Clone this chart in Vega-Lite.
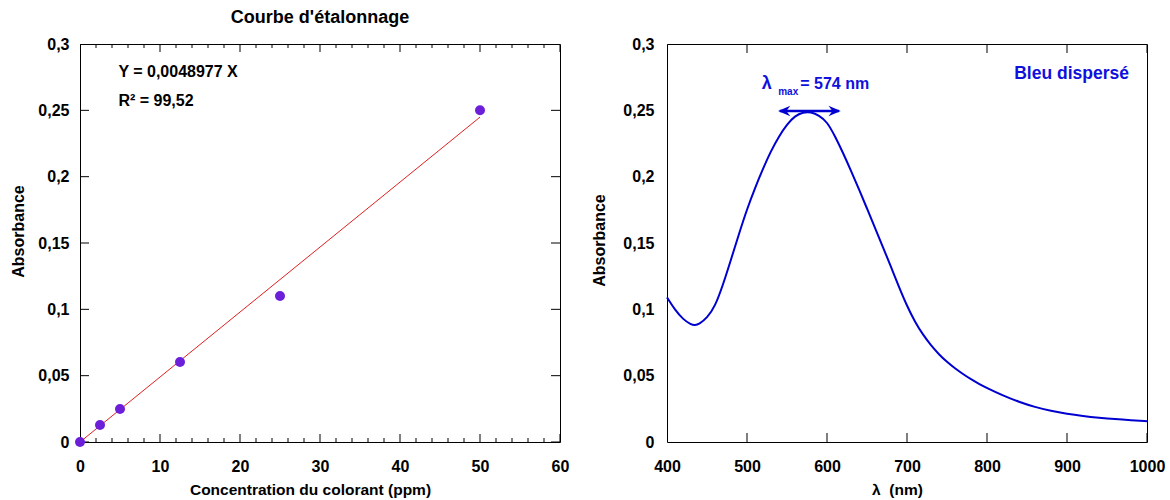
{
  "$schema": "https://vega.github.io/schema/vega-lite/v6.json",
  "padding": {"left": 10, "top": 8, "right": 0, "bottom": 0},
  "background": "white",
  "spacing": 107,
  "bounds": "flush",
  "config": {
    "font": "Liberation Sans",
    "view": {"stroke": "black", "strokeWidth": 1},
    "axis": {
      "labelFont": "Liberation Sans", "labelFontSize": 16, "labelFontWeight": "bold", "labelColor": "black",
      "titleFont": "Liberation Sans", "titleFontSize": 16, "titleFontWeight": "bold", "titleColor": "black",
      "ticks": false, "tickSize": 0, "grid": false, "domain": false, "labelFlush": false, "labelOverlap": false
    },
    "title": {"font": "Liberation Sans", "fontSize": 18, "fontWeight": "bold", "color": "black"}
  },
  "datasets": {
    "lxmajor": [
      {"c": 0, "a": 0}, {"c": 10, "a": 0}, {"c": 20, "a": 0}, {"c": 30, "a": 0}, {"c": 40, "a": 0}, {"c": 50, "a": 0}, {"c": 60, "a": 0},
      {"c": 0, "a": 0.3}, {"c": 10, "a": 0.3}, {"c": 20, "a": 0.3}, {"c": 30, "a": 0.3}, {"c": 40, "a": 0.3}, {"c": 50, "a": 0.3}, {"c": 60, "a": 0.3}
    ],
    "lxminor": [
      {"c": 2, "a": 0}, {"c": 4, "a": 0}, {"c": 6, "a": 0}, {"c": 8, "a": 0}, {"c": 12, "a": 0}, {"c": 14, "a": 0}, {"c": 16, "a": 0}, {"c": 18, "a": 0},
      {"c": 22, "a": 0}, {"c": 24, "a": 0}, {"c": 26, "a": 0}, {"c": 28, "a": 0}, {"c": 32, "a": 0}, {"c": 34, "a": 0}, {"c": 36, "a": 0}, {"c": 38, "a": 0},
      {"c": 42, "a": 0}, {"c": 44, "a": 0}, {"c": 46, "a": 0}, {"c": 48, "a": 0}, {"c": 52, "a": 0}, {"c": 54, "a": 0}, {"c": 56, "a": 0}, {"c": 58, "a": 0},
      {"c": 2, "a": 0.3}, {"c": 4, "a": 0.3}, {"c": 6, "a": 0.3}, {"c": 8, "a": 0.3}, {"c": 12, "a": 0.3}, {"c": 14, "a": 0.3}, {"c": 16, "a": 0.3}, {"c": 18, "a": 0.3},
      {"c": 22, "a": 0.3}, {"c": 24, "a": 0.3}, {"c": 26, "a": 0.3}, {"c": 28, "a": 0.3}, {"c": 32, "a": 0.3}, {"c": 34, "a": 0.3}, {"c": 36, "a": 0.3}, {"c": 38, "a": 0.3},
      {"c": 42, "a": 0.3}, {"c": 44, "a": 0.3}, {"c": 46, "a": 0.3}, {"c": 48, "a": 0.3}, {"c": 52, "a": 0.3}, {"c": 54, "a": 0.3}, {"c": 56, "a": 0.3}, {"c": 58, "a": 0.3}
    ],
    "lyticks": [
      {"c": 0, "a": 0}, {"c": 0, "a": 0.05}, {"c": 0, "a": 0.1}, {"c": 0, "a": 0.15}, {"c": 0, "a": 0.2}, {"c": 0, "a": 0.25}, {"c": 0, "a": 0.3},
      {"c": 60, "a": 0}, {"c": 60, "a": 0.05}, {"c": 60, "a": 0.1}, {"c": 60, "a": 0.15}, {"c": 60, "a": 0.2}, {"c": 60, "a": 0.25}, {"c": 60, "a": 0.3}
    ],
    "rxticks": [
      {"l": 400, "a": 0}, {"l": 500, "a": 0}, {"l": 600, "a": 0}, {"l": 700, "a": 0}, {"l": 800, "a": 0}, {"l": 900, "a": 0}, {"l": 1000, "a": 0},
      {"l": 400, "a": 0.3}, {"l": 500, "a": 0.3}, {"l": 600, "a": 0.3}, {"l": 700, "a": 0.3}, {"l": 800, "a": 0.3}, {"l": 900, "a": 0.3}, {"l": 1000, "a": 0.3}
    ]
  },
  "hconcat": [
    {
      "width": 480,
      "height": 398,
      "title": {"text": "Courbe d'étalonnage", "offset": 9},
      "layer": [
        {
          "data": {"name": "lxmajor"},
          "mark": {"type": "tick", "orient": "vertical", "size": 16, "thickness": 1, "color": "black", "opacity": 1, "clip": true},
          "encoding": {
            "x": {"field": "c", "type": "quantitative", "scale": {"domain": [0, 60], "nice": false, "zero": false},
                  "axis": {"orient": "bottom", "values": [0, 10, 20, 30, 40, 50, 60], "labelPadding": 16,
                           "title": "Concentration du colorant (ppm)", "titleFontSize": 15.5, "titlePadding": 8, "titleX": 230}},
            "y": {"field": "a", "type": "quantitative", "scale": {"domain": [0, 0.3], "nice": false, "zero": false},
                  "axis": {"orient": "left", "values": [0, 0.05, 0.1, 0.15, 0.2, 0.25, 0.3], "labelPadding": 11,
                           "labelExpr": "replace(toString(datum.value), '.', ',')",
                           "title": "Absorbance", "titlePadding": 11, "titleY": 187}}
          }
        },
        {
          "data": {"name": "lxminor"},
          "mark": {"type": "tick", "orient": "vertical", "size": 8, "thickness": 1, "color": "black", "opacity": 1, "clip": true},
          "encoding": {
            "x": {"field": "c", "type": "quantitative", "scale": {"domain": [0, 60], "nice": false, "zero": false}, "axis": null},
            "y": {"field": "a", "type": "quantitative", "scale": {"domain": [0, 0.3], "nice": false, "zero": false}, "axis": null}
          }
        },
        {
          "data": {"name": "lyticks"},
          "mark": {"type": "tick", "orient": "horizontal", "size": 18, "thickness": 1, "color": "black", "opacity": 1, "clip": true},
          "encoding": {
            "x": {"field": "c", "type": "quantitative", "scale": {"domain": [0, 60], "nice": false, "zero": false}, "axis": null},
            "y": {"field": "a", "type": "quantitative", "scale": {"domain": [0, 0.3], "nice": false, "zero": false}, "axis": null}
          }
        },
        {
          "data": {"values": [{"c": 0, "a": 0}, {"c": 50, "a": 0.244885}]},
          "mark": {"type": "line", "color": "#e02020", "strokeWidth": 1},
          "encoding": {
            "x": {"field": "c", "type": "quantitative", "scale": {"domain": [0, 60], "nice": false, "zero": false}, "axis": null},
            "y": {"field": "a", "type": "quantitative", "scale": {"domain": [0, 0.3], "nice": false, "zero": false}, "axis": null}
          }
        },
        {
          "data": {"values": [
            {"c": 0, "a": 0},
            {"c": 2.5, "a": 0.0128},
            {"c": 5, "a": 0.0249},
            {"c": 12.5, "a": 0.0603},
            {"c": 25, "a": 0.110},
            {"c": 50, "a": 0.250}
          ]},
          "mark": {"type": "point", "filled": true, "size": 100, "color": "#6c1fd9", "opacity": 1},
          "encoding": {
            "x": {"field": "c", "type": "quantitative", "scale": {"domain": [0, 60], "nice": false, "zero": false}, "axis": null},
            "y": {"field": "a", "type": "quantitative", "scale": {"domain": [0, 0.3], "nice": false, "zero": false}, "axis": null}
          }
        },
        {
          "data": {"values": [{"c": 4.8, "a": 0.2787, "t": "Y = 0,0048977 X"}, {"c": 4.8, "a": 0.257, "t": "R² = 99,52"}]},
          "mark": {"type": "text", "align": "left", "baseline": "middle", "fontSize": 16, "fontWeight": "bold", "color": "black"},
          "encoding": {
            "x": {"field": "c", "type": "quantitative", "scale": {"domain": [0, 60], "nice": false, "zero": false}, "axis": null},
            "y": {"field": "a", "type": "quantitative", "scale": {"domain": [0, 0.3], "nice": false, "zero": false}, "axis": null},
            "text": {"field": "t"}
          }
        }
      ],
      "resolve": {"axis": {"x": "independent", "y": "independent"}}
    },
    {
      "width": 480,
      "height": 398,
      "layer": [
        {
          "data": {"name": "rxticks"},
          "mark": {"type": "tick", "orient": "vertical", "size": 18, "thickness": 1, "color": "black", "opacity": 1, "clip": true},
          "encoding": {
            "x": {"field": "l", "type": "quantitative", "scale": {"domain": [400, 1000], "nice": false, "zero": false},
                  "axis": {"orient": "bottom", "values": [400, 500, 600, 700, 800, 900, 1000], "format": "d", "labelPadding": 16,
                           "title": "λ\u00a0\u00a0(nm)", "titleFontSize": 15.5, "titlePadding": 8, "titleX": 230}},
            "y": {"field": "a", "type": "quantitative", "scale": {"domain": [0, 0.3], "nice": false, "zero": false},
                  "axis": {"orient": "left", "values": [0, 0.05, 0.1, 0.15, 0.2, 0.25, 0.3], "labelPadding": 13,
                           "labelExpr": "replace(toString(datum.value), '.', ',')",
                           "title": "Absorbance", "titlePadding": 15, "titleY": 196}}
          }
        },
        {
          "data": {"values": [
            {"wl": 400, "abs": 0.109}, {"wl": 410, "abs": 0.0995}, {"wl": 420, "abs": 0.0925}, {"wl": 430, "abs": 0.0885},
            {"wl": 435, "abs": 0.088}, {"wl": 440, "abs": 0.0888}, {"wl": 450, "abs": 0.0935}, {"wl": 460, "abs": 0.1020},
            {"wl": 470, "abs": 0.1185}, {"wl": 480, "abs": 0.1375}, {"wl": 490, "abs": 0.157}, {"wl": 500, "abs": 0.1755},
            {"wl": 510, "abs": 0.1915}, {"wl": 520, "abs": 0.206}, {"wl": 530, "abs": 0.2195}, {"wl": 540, "abs": 0.2305},
            {"wl": 550, "abs": 0.2395}, {"wl": 560, "abs": 0.2458}, {"wl": 570, "abs": 0.2487}, {"wl": 580, "abs": 0.2488},
            {"wl": 590, "abs": 0.2462}, {"wl": 600, "abs": 0.2415}, {"wl": 610, "abs": 0.2305}, {"wl": 620, "abs": 0.218},
            {"wl": 630, "abs": 0.2045}, {"wl": 640, "abs": 0.1905}, {"wl": 650, "abs": 0.176}, {"wl": 660, "abs": 0.1615},
            {"wl": 670, "abs": 0.1468}, {"wl": 680, "abs": 0.132}, {"wl": 690, "abs": 0.1168}, {"wl": 700, "abs": 0.1025},
            {"wl": 710, "abs": 0.0905}, {"wl": 720, "abs": 0.0808}, {"wl": 730, "abs": 0.0728}, {"wl": 740, "abs": 0.066},
            {"wl": 750, "abs": 0.0603}, {"wl": 760, "abs": 0.0555}, {"wl": 770, "abs": 0.0512}, {"wl": 780, "abs": 0.0473},
            {"wl": 790, "abs": 0.0438}, {"wl": 800, "abs": 0.0407}, {"wl": 820, "abs": 0.035}, {"wl": 840, "abs": 0.0302},
            {"wl": 860, "abs": 0.0263}, {"wl": 880, "abs": 0.0234}, {"wl": 900, "abs": 0.0212}, {"wl": 920, "abs": 0.0196},
            {"wl": 940, "abs": 0.0183}, {"wl": 960, "abs": 0.0172}, {"wl": 980, "abs": 0.0164}, {"wl": 1000, "abs": 0.0157}
          ]},
          "mark": {"type": "line", "color": "#0000d0", "strokeWidth": 2, "interpolate": "basis"},
          "encoding": {
            "x": {"field": "wl", "type": "quantitative", "scale": {"domain": [400, 1000], "nice": false, "zero": false}, "axis": null},
            "y": {"field": "abs", "type": "quantitative", "scale": {"domain": [0, 0.3], "nice": false, "zero": false}, "axis": null}
          }
        },
        {
          "data": {"values": [{"l1": 541, "l2": 615, "a": 0.2495}]},
          "mark": {"type": "rule", "color": "#0000d0", "strokeWidth": 2.5},
          "encoding": {
            "x": {"field": "l1", "type": "quantitative", "scale": {"domain": [400, 1000], "nice": false, "zero": false}, "axis": null},
            "x2": {"field": "l2"},
            "y": {"field": "a", "type": "quantitative", "scale": {"domain": [0, 0.3], "nice": false, "zero": false}, "axis": null}
          }
        },
        {
          "data": {"values": [{"l": 546.5, "a": 0.2495}]},
          "mark": {"type": "point", "shape": "M -1 0 L 1 -0.85 L 0.35 0 L 1 0.85 Z", "filled": true, "size": 150, "color": "#0000d0", "opacity": 1},
          "encoding": {
            "x": {"field": "l", "type": "quantitative", "scale": {"domain": [400, 1000], "nice": false, "zero": false}, "axis": null},
            "y": {"field": "a", "type": "quantitative", "scale": {"domain": [0, 0.3], "nice": false, "zero": false}, "axis": null}
          }
        },
        {
          "data": {"values": [{"l": 609.5, "a": 0.2495}]},
          "mark": {"type": "point", "shape": "M 1 0 L -1 -0.85 L -0.35 0 L -1 0.85 Z", "filled": true, "size": 150, "color": "#0000d0", "opacity": 1},
          "encoding": {
            "x": {"field": "l", "type": "quantitative", "scale": {"domain": [400, 1000], "nice": false, "zero": false}, "axis": null},
            "y": {"field": "a", "type": "quantitative", "scale": {"domain": [0, 0.3], "nice": false, "zero": false}, "axis": null}
          }
        },
        {
          "data": {"values": [{"l": 518.5, "a": 0.2695, "t": "λ"}]},
          "mark": {"type": "text", "align": "left", "baseline": "middle", "fontSize": 18, "fontWeight": "bold", "color": "#1010dd"},
          "encoding": {
            "x": {"field": "l", "type": "quantitative", "scale": {"domain": [400, 1000], "nice": false, "zero": false}, "axis": null},
            "y": {"field": "a", "type": "quantitative", "scale": {"domain": [0, 0.3], "nice": false, "zero": false}, "axis": null},
            "text": {"field": "t"}
          }
        },
        {
          "data": {"values": [{"l": 566.6, "a": 0.2698, "t": "= 574 nm"}]},
          "mark": {"type": "text", "align": "left", "baseline": "middle", "fontSize": 16, "fontWeight": "bold", "color": "#1010dd"},
          "encoding": {
            "x": {"field": "l", "type": "quantitative", "scale": {"domain": [400, 1000], "nice": false, "zero": false}, "axis": null},
            "y": {"field": "a", "type": "quantitative", "scale": {"domain": [0, 0.3], "nice": false, "zero": false}, "axis": null},
            "text": {"field": "t"}
          }
        },
        {
          "data": {"values": [{"l": 539, "a": 0.2638, "t": "max"}]},
          "mark": {"type": "text", "align": "left", "baseline": "middle", "fontSize": 10, "fontWeight": "bold", "color": "#1010dd"},
          "encoding": {
            "x": {"field": "l", "type": "quantitative", "scale": {"domain": [400, 1000], "nice": false, "zero": false}, "axis": null},
            "y": {"field": "a", "type": "quantitative", "scale": {"domain": [0, 0.3], "nice": false, "zero": false}, "axis": null},
            "text": {"field": "t"}
          }
        },
        {
          "data": {"values": [{"l": 977.5, "a": 0.2774, "t": "Bleu dispersé"}]},
          "mark": {"type": "text", "align": "right", "baseline": "middle", "fontSize": 17.5, "fontWeight": "bold", "color": "#1010dd"},
          "encoding": {
            "x": {"field": "l", "type": "quantitative", "scale": {"domain": [400, 1000], "nice": false, "zero": false}, "axis": null},
            "y": {"field": "a", "type": "quantitative", "scale": {"domain": [0, 0.3], "nice": false, "zero": false}, "axis": null},
            "text": {"field": "t"}
          }
        }
      ],
      "resolve": {"axis": {"x": "independent", "y": "independent"}}
    }
  ]
}
